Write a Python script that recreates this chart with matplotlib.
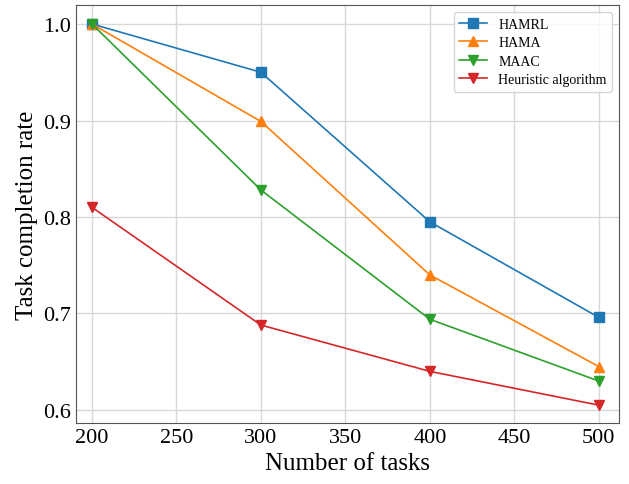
import matplotlib
matplotlib.use('Agg')
import matplotlib.pyplot as plt

plt.rcParams['font.family'] = ['Liberation Serif', 'DejaVu Serif']

# Data
tasks = [200, 300, 400, 500]
hamrl = [1.0, 0.95, 0.795, 0.696]
hama = [1.0, 0.899, 0.74, 0.645]
maac = [1.0, 0.828, 0.694, 0.63]
heuristic = [0.81, 0.688, 0.64, 0.605]

fig = plt.figure(figsize=(6.29, 4.85), dpi=100)
ax = fig.add_axes([0.1208, 0.1258, 0.8633, 0.8618])

ax.plot(tasks, hamrl, marker='s', color='tab:blue', linewidth=1.2, markersize=7.5, label='HAMRL')
ax.plot(tasks, hama, marker='^', color='tab:orange', linewidth=1.2, markersize=7.5, label='HAMA')
ax.plot(tasks, maac, marker='v', color='tab:green', linewidth=1.2, markersize=7.5, label='MAAC')
ax.plot(tasks, heuristic, marker='v', color='tab:red', linewidth=1.2, markersize=7.5, label='Heuristic algorithm')

ax.set_xlim(190.5, 512)
ax.set_ylim(0.5865, 1.0197)
ax.set_xticks([200, 250, 300, 350, 400, 450, 500])
ax.set_yticks([0.6, 0.7, 0.8, 0.9, 1.0])
ax.tick_params(labelsize=16, length=0)
ax.set_xlabel('Number of tasks', fontsize=18)
ax.set_ylabel('Task completion rate', fontsize=18)
ax.grid(True, color='#d8d8d8', linewidth=1)
ax.set_axisbelow(True)
for s in ax.spines.values():
    s.set_color('#555555')

ax.legend(loc='upper right', fontsize=10, borderaxespad=0.5, labelspacing=0.4,
          handlelength=2.0)

fig.savefig('out.png', dpi=100)
